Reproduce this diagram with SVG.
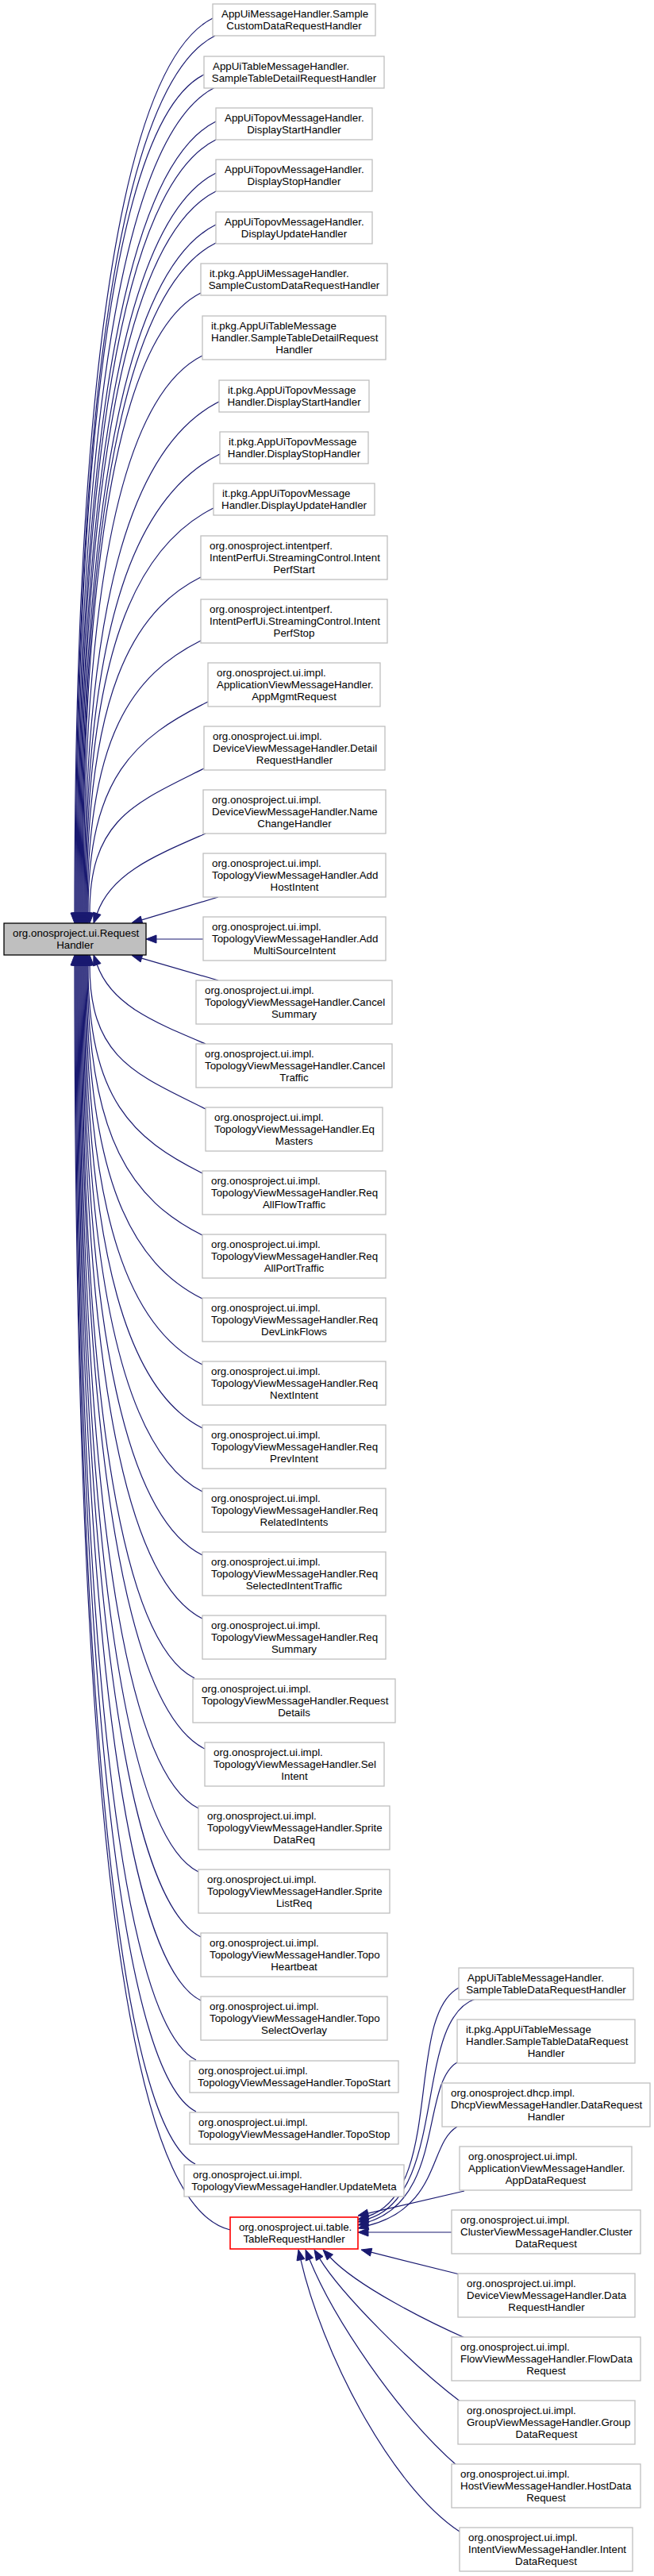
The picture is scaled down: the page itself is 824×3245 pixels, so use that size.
<svg xmlns="http://www.w3.org/2000/svg" width="824" height="3245" viewBox="0 0 824 3245">
<style>
rect{fill:#ffffff;stroke:#bfbfbf;stroke-width:1.3}
rect.root{fill:#bfbfbf;stroke:#000000}
rect.cur{stroke:#ff0000;stroke-width:1.6}
text{font-family:"Liberation Sans",Arial,Helvetica,sans-serif;font-size:13.33px;fill:#000000}
text.m{text-anchor:middle}
#edges path{fill:none;stroke:#191970;stroke-width:1.2}
#edges polygon{fill:#191970;stroke:#191970;stroke-width:1}
</style>
<rect x="0" y="0" width="824" height="3245" style="fill:#ffffff;stroke:none"/>
<g id="edges">
<path d="M268,23 C163.6,75.2 94,417.5 94,1150"/><polygon points="89,1150 99,1150 94,1163"/>
<path d="M271,45 C165.4,97.8 95,431.8 95,1150"/><polygon points="90,1150 100,1150 95,1163"/>
<path d="M257,94 C160.4,142.3 96,463.6 96,1150"/><polygon points="91,1150 101,1150 96,1163"/>
<path d="M271,110 C166.6,162.2 97,474 97,1150"/><polygon points="92,1150 102,1150 97,1163"/>
<path d="M272,153 C167.6,205.2 98,502 98,1150"/><polygon points="93,1150 103,1150 98,1163"/>
<path d="M272,176 C168.2,227.9 99,516.9 99,1150"/><polygon points="94,1150 104,1150 99,1163"/>
<path d="M272,218 C168.8,269.6 100,544.2 100,1150"/><polygon points="95,1150 105,1150 100,1163"/>
<path d="M272,241 C169.4,292.3 101,559.2 101,1150"/><polygon points="96,1150 106,1150 101,1163"/>
<path d="M272,283 C170,334 102,586.5 102,1150"/><polygon points="97,1150 107,1150 102,1163"/>
<path d="M272,306 C170.6,356.7 103,601.4 103,1150"/><polygon points="98,1150 108,1150 103,1163"/>
<path d="M253,369 C163.6,413.7 104,642.4 104,1150"/><polygon points="99,1150 109,1150 104,1163"/>
<path d="M255,448 C165,493 105,693.7 105,1150"/><polygon points="100,1150 110,1150 105,1163"/>
<path d="M276,506 C174,557 106,731.4 106,1150"/><polygon points="101,1150 111,1150 106,1163"/>
<path d="M277,572 C175,623 107,774.3 107,1150"/><polygon points="102,1150 112,1150 107,1163"/>
<path d="M269,640 C172.4,688.3 108,818.5 108,1150"/><polygon points="103,1150 113,1150 108,1163"/>
<path d="M253,727 C166.6,770.2 109,875 109,1150"/><polygon points="104,1150 114,1150 109,1163"/>
<path d="M253,807 C167.2,849.9 110,927 110,1150"/><polygon points="105,1150 115,1150 110,1163"/>
<path d="M262,884 C171.4,929.3 111,977.1 111,1150"/><polygon points="106,1150 116,1150 111,1163"/>
<path d="M257,968 C170.6,1011.2 113,1031.7 113,1150"/><polygon points="108,1150 118,1150 113,1163"/>
<path d="M259,1050 C195,1078 140,1100 122.3,1150.7"/><polygon points="127,1152.3 117.6,1149.1 118,1163"/>
<path d="M275,1130 L178.5,1158.8"/><polygon points="179.9,1163.6 177.1,1154 166,1162.5"/>
<path d="M256,1183 L197,1183"/><polygon points="197,1178 197,1188 184,1183"/>
<path d="M275,1235 L178.5,1207.1"/><polygon points="179.9,1202.3 177.1,1211.9 166,1203.5"/>
<path d="M259,1315 C195,1288 140,1266 122.3,1215.3"/><polygon points="127,1213.6 117.6,1216.9 118,1203"/>
<path d="M259,1397 C171.4,1353.2 113,1333.7 113,1216"/><polygon points="108,1216 118,1216 113,1203"/>
<path d="M255,1478 C168.6,1434.8 111,1386.3 111,1216"/><polygon points="106,1216 116,1216 111,1203"/>
<path d="M255,1556 C168,1512.5 110,1437 110,1216"/><polygon points="105,1216 115,1216 110,1203"/>
<path d="M255,1636 C167.4,1592.2 109,1489 109,1216"/><polygon points="104,1216 114,1216 109,1203"/>
<path d="M255,1719 C166.8,1674.9 108,1543 108,1216"/><polygon points="103,1216 113,1216 108,1203"/>
<path d="M255,1799 C166.2,1754.6 107,1595 107,1216"/><polygon points="102,1216 112,1216 107,1203"/>
<path d="M255,1879 C165.6,1834.3 106,1647 106,1216"/><polygon points="101,1216 111,1216 106,1203"/>
<path d="M255,1959 C165,1914 105,1699 105,1216"/><polygon points="100,1216 110,1216 105,1203"/>
<path d="M255,2039 C164.4,1993.7 104,1751 104,1216"/><polygon points="99,1216 109,1216 104,1203"/>
<path d="M245,2114 C159.8,2071.4 103,1799.7 103,1216"/><polygon points="98,1216 108,1216 103,1203"/>
<path d="M258,2203 C164.4,2156.2 102,1857.6 102,1216"/><polygon points="97,1216 107,1216 102,1203"/>
<path d="M250,2278 C160.6,2233.3 101,1906.3 101,1216"/><polygon points="96,1216 106,1216 101,1203"/>
<path d="M250,2358 C160,2313 100,1958.3 100,1216"/><polygon points="95,1216 105,1216 100,1203"/>
<path d="M253,2440 C160.6,2393.8 99,2011.6 99,1216"/><polygon points="94,1216 104,1216 99,1203"/>
<path d="M253,2520 C160,2473.5 98,2063.6 98,1216"/><polygon points="93,1216 103,1216 98,1203"/>
<path d="M247,2595 C157,2550 97,2112.4 97,1216"/><polygon points="92,1216 102,1216 97,1203"/>
<path d="M247,2660 C156.4,2614.7 96,2154.6 96,1216"/><polygon points="91,1216 101,1216 96,1203"/>
<path d="M246,2726 C155.4,2680.7 95,2197.5 95,1216"/><polygon points="90,1216 100,1216 95,1203"/>
<path d="M290,2809 C190,2785 94,2500 94,1216"/><polygon points="89,1216 99,1216 94,1203"/>
<path d="M578,2504 C510,2540 560,2760 463.3,2791.9"/><polygon points="464.9,2796.6 461.7,2787.2 451,2796"/>
<path d="M599,2518 C520,2545 565,2765 463.5,2795.3"/><polygon points="464.9,2800.1 462.1,2790.5 451,2799"/>
<path d="M576,2598 C530,2625 560,2770 463.4,2799.2"/><polygon points="464.9,2804 462,2794.4 451,2803"/>
<path d="M576,2679 C540,2700 555,2780 463.6,2803.7"/><polygon points="464.8,2808.5 462.3,2798.9 451,2807"/>
<path d="M585,2760 L463.7,2788.1"/><polygon points="464.8,2793 462.5,2783.2 451,2791"/>
<path d="M569,2812 L464,2812"/><polygon points="464,2807 464,2817 451,2812"/>
<path d="M579,2865 L467.6,2837.2"/><polygon points="468.8,2832.3 466.4,2842 455,2834"/>
<path d="M588,2946 C540,2925 450,2880 415.9,2843.5"/><polygon points="419.5,2840.1 412.2,2846.9 407,2834"/>
<path d="M581,3026 C520,2980 430,2890 402.7,2845.1"/><polygon points="407,2842.5 398.4,2847.7 396,2834"/>
<path d="M577,3107 C500,3040 420,2920 389.9,2846.1"/><polygon points="394.5,2844.2 385.3,2848 385,2834"/>
<path d="M579,3189 C490,3130 405,2960 378.9,2846.7"/><polygon points="383.8,2845.6 374,2847.8 376,2834"/>
</g>
<g id="n_root"><rect class="root" x="5" y="1163" width="179" height="40"/><text x="16" y="1179.5">org.onosproject.ui.Request</text><text class="m" x="94.5" y="1194.5">Handler</text></g>
<g id="n1"><rect x="268" y="5" width="205" height="40"/><text x="279" y="21.5">AppUiMessageHandler.Sample</text><text class="m" x="370.5" y="36.5">CustomDataRequestHandler</text></g>
<g id="n2"><rect x="257" y="71" width="227" height="40"/><text x="268" y="87.5">AppUiTableMessageHandler.</text><text class="m" x="370.5" y="102.5">SampleTableDetailRequestHandler</text></g>
<g id="n3"><rect x="272" y="136" width="197" height="40"/><text x="283" y="152.5">AppUiTopovMessageHandler.</text><text class="m" x="370.5" y="167.5">DisplayStartHandler</text></g>
<g id="n4"><rect x="272" y="201" width="197" height="40"/><text x="283" y="217.5">AppUiTopovMessageHandler.</text><text class="m" x="370.5" y="232.5">DisplayStopHandler</text></g>
<g id="n5"><rect x="272" y="267" width="197" height="40"/><text x="283" y="283.5">AppUiTopovMessageHandler.</text><text class="m" x="370.5" y="298.5">DisplayUpdateHandler</text></g>
<g id="n6"><rect x="253" y="332" width="235" height="40"/><text x="264" y="348.5">it.pkg.AppUiMessageHandler.</text><text class="m" x="370.5" y="363.5">SampleCustomDataRequestHandler</text></g>
<g id="n7"><rect x="255" y="398" width="231" height="55"/><text x="266" y="414.5">it.pkg.AppUiTableMessage</text><text x="266" y="429.5">Handler.SampleTableDetailRequest</text><text class="m" x="370.5" y="444.5">Handler</text></g>
<g id="n8"><rect x="276" y="479" width="189" height="40"/><text x="287" y="495.5">it.pkg.AppUiTopovMessage</text><text class="m" x="370.5" y="510.5">Handler.DisplayStartHandler</text></g>
<g id="n9"><rect x="277" y="544" width="187" height="40"/><text x="288" y="560.5">it.pkg.AppUiTopovMessage</text><text class="m" x="370.5" y="575.5">Handler.DisplayStopHandler</text></g>
<g id="n10"><rect x="269" y="609" width="203" height="40"/><text x="280" y="625.5">it.pkg.AppUiTopovMessage</text><text class="m" x="370.5" y="640.5">Handler.DisplayUpdateHandler</text></g>
<g id="n11"><rect x="253" y="675" width="235" height="55"/><text x="264" y="691.5">org.onosproject.intentperf.</text><text x="264" y="706.5">IntentPerfUi.StreamingControl.Intent</text><text class="m" x="370.5" y="721.5">PerfStart</text></g>
<g id="n12"><rect x="253" y="755" width="235" height="55"/><text x="264" y="771.5">org.onosproject.intentperf.</text><text x="264" y="786.5">IntentPerfUi.StreamingControl.Intent</text><text class="m" x="370.5" y="801.5">PerfStop</text></g>
<g id="n13"><rect x="262" y="835" width="217" height="55"/><text x="273" y="851.5">org.onosproject.ui.impl.</text><text x="273" y="866.5">ApplicationViewMessageHandler.</text><text class="m" x="370.5" y="881.5">AppMgmtRequest</text></g>
<g id="n14"><rect x="257" y="915" width="228" height="55"/><text x="268" y="931.5">org.onosproject.ui.impl.</text><text x="268" y="946.5">DeviceViewMessageHandler.Detail</text><text class="m" x="371" y="961.5">RequestHandler</text></g>
<g id="n15"><rect x="256" y="995" width="230" height="55"/><text x="267" y="1011.5">org.onosproject.ui.impl.</text><text x="267" y="1026.5">DeviceViewMessageHandler.Name</text><text class="m" x="371" y="1041.5">ChangeHandler</text></g>
<g id="n16"><rect x="256" y="1075" width="230" height="55"/><text x="267" y="1091.5">org.onosproject.ui.impl.</text><text x="267" y="1106.5">TopologyViewMessageHandler.Add</text><text class="m" x="371" y="1121.5">HostIntent</text></g>
<g id="n17"><rect x="256" y="1155" width="230" height="55"/><text x="267" y="1171.5">org.onosproject.ui.impl.</text><text x="267" y="1186.5">TopologyViewMessageHandler.Add</text><text class="m" x="371" y="1201.5">MultiSourceIntent</text></g>
<g id="n18"><rect x="247" y="1235" width="247" height="55"/><text x="258" y="1251.5">org.onosproject.ui.impl.</text><text x="258" y="1266.5">TopologyViewMessageHandler.Cancel</text><text class="m" x="370.5" y="1281.5">Summary</text></g>
<g id="n19"><rect x="247" y="1315" width="247" height="55"/><text x="258" y="1331.5">org.onosproject.ui.impl.</text><text x="258" y="1346.5">TopologyViewMessageHandler.Cancel</text><text class="m" x="370.5" y="1361.5">Traffic</text></g>
<g id="n20"><rect x="259" y="1395" width="223" height="55"/><text x="270" y="1411.5">org.onosproject.ui.impl.</text><text x="270" y="1426.5">TopologyViewMessageHandler.Eq</text><text class="m" x="370.5" y="1441.5">Masters</text></g>
<g id="n21"><rect x="255" y="1475" width="231" height="55"/><text x="266" y="1491.5">org.onosproject.ui.impl.</text><text x="266" y="1506.5">TopologyViewMessageHandler.Req</text><text class="m" x="370.5" y="1521.5">AllFlowTraffic</text></g>
<g id="n22"><rect x="255" y="1555" width="231" height="55"/><text x="266" y="1571.5">org.onosproject.ui.impl.</text><text x="266" y="1586.5">TopologyViewMessageHandler.Req</text><text class="m" x="370.5" y="1601.5">AllPortTraffic</text></g>
<g id="n23"><rect x="255" y="1635" width="231" height="55"/><text x="266" y="1651.5">org.onosproject.ui.impl.</text><text x="266" y="1666.5">TopologyViewMessageHandler.Req</text><text class="m" x="370.5" y="1681.5">DevLinkFlows</text></g>
<g id="n24"><rect x="255" y="1715" width="231" height="55"/><text x="266" y="1731.5">org.onosproject.ui.impl.</text><text x="266" y="1746.5">TopologyViewMessageHandler.Req</text><text class="m" x="370.5" y="1761.5">NextIntent</text></g>
<g id="n25"><rect x="255" y="1795" width="231" height="55"/><text x="266" y="1811.5">org.onosproject.ui.impl.</text><text x="266" y="1826.5">TopologyViewMessageHandler.Req</text><text class="m" x="370.5" y="1841.5">PrevIntent</text></g>
<g id="n26"><rect x="255" y="1875" width="231" height="55"/><text x="266" y="1891.5">org.onosproject.ui.impl.</text><text x="266" y="1906.5">TopologyViewMessageHandler.Req</text><text class="m" x="370.5" y="1921.5">RelatedIntents</text></g>
<g id="n27"><rect x="255" y="1955" width="231" height="55"/><text x="266" y="1971.5">org.onosproject.ui.impl.</text><text x="266" y="1986.5">TopologyViewMessageHandler.Req</text><text class="m" x="370.5" y="2001.5">SelectedIntentTraffic</text></g>
<g id="n28"><rect x="255" y="2035" width="231" height="55"/><text x="266" y="2051.5">org.onosproject.ui.impl.</text><text x="266" y="2066.5">TopologyViewMessageHandler.Req</text><text class="m" x="370.5" y="2081.5">Summary</text></g>
<g id="n29"><rect x="243" y="2115" width="255" height="55"/><text x="254" y="2131.5">org.onosproject.ui.impl.</text><text x="254" y="2146.5">TopologyViewMessageHandler.Request</text><text class="m" x="370.5" y="2161.5">Details</text></g>
<g id="n30"><rect x="258" y="2195" width="226" height="55"/><text x="269" y="2211.5">org.onosproject.ui.impl.</text><text x="269" y="2226.5">TopologyViewMessageHandler.Sel</text><text class="m" x="371" y="2241.5">Intent</text></g>
<g id="n31"><rect x="250" y="2275" width="241" height="55"/><text x="261" y="2291.5">org.onosproject.ui.impl.</text><text x="261" y="2306.5">TopologyViewMessageHandler.Sprite</text><text class="m" x="370.5" y="2321.5">DataReq</text></g>
<g id="n32"><rect x="250" y="2355" width="241" height="55"/><text x="261" y="2371.5">org.onosproject.ui.impl.</text><text x="261" y="2386.5">TopologyViewMessageHandler.Sprite</text><text class="m" x="370.5" y="2401.5">ListReq</text></g>
<g id="n33"><rect x="253" y="2435" width="235" height="55"/><text x="264" y="2451.5">org.onosproject.ui.impl.</text><text x="264" y="2466.5">TopologyViewMessageHandler.Topo</text><text class="m" x="370.5" y="2481.5">Heartbeat</text></g>
<g id="n34"><rect x="253" y="2515" width="235" height="55"/><text x="264" y="2531.5">org.onosproject.ui.impl.</text><text x="264" y="2546.5">TopologyViewMessageHandler.Topo</text><text class="m" x="370.5" y="2561.5">SelectOverlay</text></g>
<g id="n35"><rect x="239" y="2596" width="263" height="40"/><text x="250" y="2612.5">org.onosproject.ui.impl.</text><text class="m" x="370.5" y="2627.5">TopologyViewMessageHandler.TopoStart</text></g>
<g id="n36"><rect x="239" y="2661" width="263" height="40"/><text x="250" y="2677.5">org.onosproject.ui.impl.</text><text class="m" x="370.5" y="2692.5">TopologyViewMessageHandler.TopoStop</text></g>
<g id="n37"><rect x="232" y="2727" width="277" height="40"/><text x="243" y="2743.5">org.onosproject.ui.impl.</text><text class="m" x="370.5" y="2758.5">TopologyViewMessageHandler.UpdateMeta</text></g>
<g id="n_table"><rect class="cur" x="290" y="2793" width="161" height="40"/><text x="301" y="2809.5">org.onosproject.ui.table.</text><text class="m" x="370.5" y="2824.5">TableRequestHandler</text></g>
<g id="r1"><rect x="578" y="2479" width="220" height="40"/><text x="589" y="2495.5">AppUiTableMessageHandler.</text><text class="m" x="688" y="2510.5">SampleTableDataRequestHandler</text></g>
<g id="r2"><rect x="576" y="2544" width="224" height="55"/><text x="587" y="2560.5">it.pkg.AppUiTableMessage</text><text x="587" y="2575.5">Handler.SampleTableDataRequest</text><text class="m" x="688" y="2590.5">Handler</text></g>
<g id="r3"><rect x="557" y="2624" width="262" height="55"/><text x="568" y="2640.5">org.onosproject.dhcp.impl.</text><text x="568" y="2655.5">DhcpViewMessageHandler.DataRequest</text><text class="m" x="688" y="2670.5">Handler</text></g>
<g id="r4"><rect x="579" y="2704" width="217" height="55"/><text x="590" y="2720.5">org.onosproject.ui.impl.</text><text x="590" y="2735.5">ApplicationViewMessageHandler.</text><text class="m" x="687.5" y="2750.5">AppDataRequest</text></g>
<g id="r5"><rect x="569" y="2784" width="238" height="55"/><text x="580" y="2800.5">org.onosproject.ui.impl.</text><text x="580" y="2815.5">ClusterViewMessageHandler.Cluster</text><text class="m" x="688" y="2830.5">DataRequest</text></g>
<g id="r6"><rect x="577" y="2864" width="223" height="55"/><text x="588" y="2880.5">org.onosproject.ui.impl.</text><text x="588" y="2895.5">DeviceViewMessageHandler.Data</text><text class="m" x="688.5" y="2910.5">RequestHandler</text></g>
<g id="r7"><rect x="569" y="2944" width="238" height="55"/><text x="580" y="2960.5">org.onosproject.ui.impl.</text><text x="580" y="2975.5">FlowViewMessageHandler.FlowData</text><text class="m" x="688" y="2990.5">Request</text></g>
<g id="r8"><rect x="577" y="3024" width="223" height="55"/><text x="588" y="3040.5">org.onosproject.ui.impl.</text><text x="588" y="3055.5">GroupViewMessageHandler.Group</text><text class="m" x="688.5" y="3070.5">DataRequest</text></g>
<g id="r9"><rect x="569" y="3104" width="238" height="55"/><text x="580" y="3120.5">org.onosproject.ui.impl.</text><text x="580" y="3135.5">HostViewMessageHandler.HostData</text><text class="m" x="688" y="3150.5">Request</text></g>
<g id="r10"><rect x="579" y="3184" width="218" height="55"/><text x="590" y="3200.5">org.onosproject.ui.impl.</text><text x="590" y="3215.5">IntentViewMessageHandler.Intent</text><text class="m" x="688" y="3230.5">DataRequest</text></g>
</svg>
